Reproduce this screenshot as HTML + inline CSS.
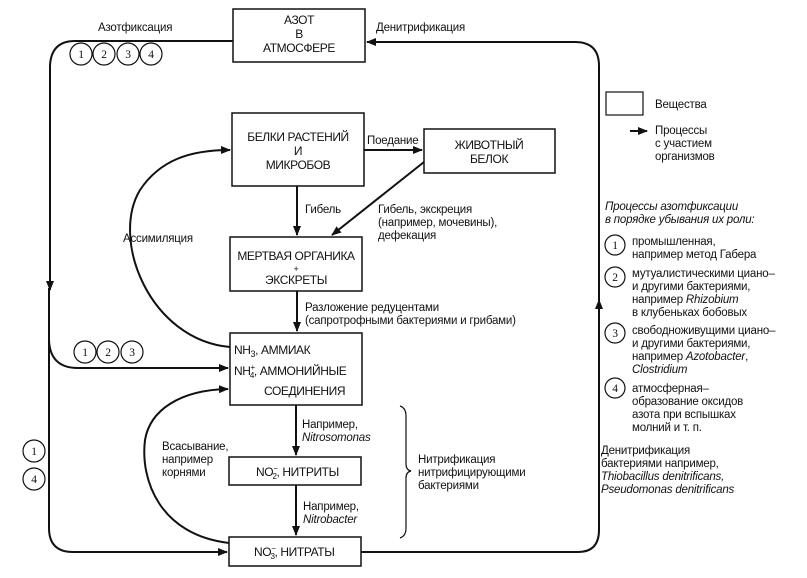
<!DOCTYPE html>
<html><head><meta charset="utf-8"><style>
html,body{margin:0;padding:0;background:#fff}
svg{display:block}
text{font-family:"Liberation Sans",sans-serif;font-size:11.5px;fill:#111;letter-spacing:-0.2px}
.b{font-size:12px;letter-spacing:-0.4px}
.i{font-style:italic}
</style></head><body>
<svg width="807" height="578" viewBox="0 0 807 578" xmlns="http://www.w3.org/2000/svg">
<defs><marker id="a" markerWidth="10" markerHeight="8" refX="9" refY="4" orient="auto" markerUnits="userSpaceOnUse"><path d="M0,0 L10,4 L0,8 z" fill="#111"/></marker></defs>
<g fill="none" stroke="#111" stroke-width="2">
<rect x="233" y="9" width="132" height="53" stroke-width="1.5"/>
<rect x="232" y="113" width="132" height="73" stroke-width="1.5"/>
<rect x="424" y="129" width="131" height="44" stroke-width="1.5"/>
<rect x="230" y="237" width="132" height="54" stroke-width="1.5"/>
<rect x="230" y="333" width="132" height="72" stroke-width="1.5"/>
<rect x="229" y="457" width="132" height="28" stroke-width="1.5"/>
<rect x="229" y="537" width="132" height="29" stroke-width="1.5"/>
<rect x="606" y="92" width="37" height="23" stroke-width="1.2"/>
<path d="M233,41 H75 Q51,41 50,66 V290" marker-end="url(#a)"/>
<path d="M49,288 V528 Q49,552 73,552 H227" marker-end="url(#a)"/>
<path d="M49,340 Q50,368 78,368 H228" marker-end="url(#a)"/>
<path d="M361,552 H578 Q599,552 599,530 V310"/>
<path d="M599,320 V300" marker-end="url(#a)"/>
<path d="M599,300 V66 Q599,42 575,42 H367" marker-end="url(#a)"/>
<path d="M364,150 H422" marker-end="url(#a)"/>
<path d="M297,186 V235" marker-end="url(#a)"/>
<path d="M424,162 L332,235" marker-end="url(#a)"/>
<path d="M297,291 V331" marker-end="url(#a)"/>
<path d="M296,405 V455" marker-end="url(#a)"/>
<path d="M296,485 V535" marker-end="url(#a)"/>
<path d="M230,347 C150,340 110,240 140,190 C160,160 190,150 230,150" marker-end="url(#a)"/>
<path d="M229,543 C160,535 140,480 145,440 C150,410 180,390 228,389" marker-end="url(#a)"/>
<path d="M630,131 H647" marker-end="url(#a)"/>
<path d="M400,406 Q406,408 406,416 V464 Q406,470 411,471 Q406,472 406,478 V528 Q406,536 400,538" stroke-width="1.2"/>
</g>
<g fill="#fff" stroke="#111" stroke-width="1.2">
<circle cx="81" cy="54" r="11"/><circle cx="104" cy="54" r="11"/><circle cx="128" cy="54" r="11"/><circle cx="151" cy="54" r="11"/>
<circle cx="85" cy="352" r="11"/><circle cx="108" cy="352" r="11"/><circle cx="132" cy="352" r="11"/>
<circle cx="34" cy="451" r="11"/><circle cx="34" cy="479" r="11"/>
<circle cx="615" cy="245" r="10"/><circle cx="615" cy="277" r="10"/><circle cx="615" cy="333" r="10"/><circle cx="615" cy="388" r="10"/>
</g>
<g text-anchor="middle">
<text x="81" y="58" style="font-family:'Liberation Serif',serif">1</text><text x="104" y="58" style="font-family:'Liberation Serif',serif">2</text><text x="128" y="58" style="font-family:'Liberation Serif',serif">3</text><text x="151" y="58" style="font-family:'Liberation Serif',serif">4</text>
<text x="85" y="356" style="font-family:'Liberation Serif',serif">1</text><text x="108" y="356" style="font-family:'Liberation Serif',serif">2</text><text x="132" y="356" style="font-family:'Liberation Serif',serif">3</text>
<text x="34" y="455" style="font-family:'Liberation Serif',serif">1</text><text x="34" y="483" style="font-family:'Liberation Serif',serif">4</text>
<text x="615" y="249" style="font-family:'Liberation Serif',serif">1</text><text x="615" y="281" style="font-family:'Liberation Serif',serif">2</text><text x="615" y="337" style="font-family:'Liberation Serif',serif">3</text><text x="615" y="392" style="font-family:'Liberation Serif',serif">4</text>
</g>
<g text-anchor="middle">
<text class="b" x="299" y="24">АЗОТ</text><text class="b" x="299" y="38">В</text><text class="b" x="299" y="52">АТМОСФЕРЕ</text>
<text class="b" x="298" y="141">БЕЛКИ РАСТЕНИЙ</text><text class="b" x="298" y="155">И</text><text class="b" x="298" y="169">МИКРОБОВ</text>
<text class="b" x="489" y="149">ЖИВОТНЫЙ</text><text class="b" x="489" y="163">БЕЛОК</text>
<text class="b" x="296" y="260">МЕРТВАЯ ОРГАНИКА</text><text x="296" y="272" style="font-size:9px">+</text><text class="b" x="296" y="284">ЭКСКРЕТЫ</text>
</g>
<text class="b" x="234" y="354">NH<tspan dy="3" font-size="9">3</tspan><tspan dy="-3">, АММИАК</tspan></text>
<text class="b" x="234" y="375">NH<tspan dy="-5" font-size="8">+</tspan><tspan dx="-5" dy="8" font-size="8">4</tspan><tspan dy="-3">, АММОНИЙНЫЕ</tspan></text>
<text class="b" x="264" y="395">СОЕДИНЕНИЯ</text>
<text class="b" x="256" y="476">NO<tspan dy="-5" font-size="8">−</tspan><tspan dx="-5" dy="8" font-size="8">2</tspan><tspan dy="-3">,  НИТРИТЫ</tspan></text>
<text class="b" x="254" y="556">NO<tspan dy="-5" font-size="8">−</tspan><tspan dx="-5" dy="8" font-size="8">3</tspan><tspan dy="-3">, НИТРАТЫ</tspan></text>
<text x="98" y="31">Азотфиксация</text>
<text x="376" y="31">Денитрификация</text>
<text x="367" y="144">Поедание</text>
<text x="305" y="213">Гибель</text>
<text x="378" y="213">Гибель, экскреция</text><text x="378" y="226">(например, мочевины),</text><text x="378" y="239">дефекация</text>
<text x="123" y="242">Ассимиляция</text>
<text x="305" y="311">Разложение редуцентами</text><text x="305" y="324">(сапротрофными бактериями и грибами)</text>
<text x="302" y="428">Например,</text><text x="302" y="441" class="i">Nitrosomonas</text>
<text x="303" y="510">Например,</text><text x="303" y="523" class="i">Nitrobacter</text>
<text x="162" y="450">Всасывание,</text><text x="162" y="463">например</text><text x="162" y="476">корнями</text>
<text x="418" y="463">Нитрификация</text><text x="418" y="476">нитрифицирующими</text><text x="418" y="489">бактериями</text>
<text x="655" y="108">Вещества</text>
<text x="655" y="134">Процессы</text><text x="655" y="147">с участием</text><text x="655" y="160">организмов</text>
<text x="605" y="210" class="i">Процессы азотфиксации</text><text x="605" y="223" class="i">в порядке убывания их роли:</text>
<text x="632" y="245">промышленная,</text><text x="632" y="258">например метод Габера</text>
<text x="632" y="277">мутуалистическими циано–</text><text x="632" y="290">и другими бактериями,</text><text x="632" y="303">например <tspan class="i">Rhizobium</tspan></text><text x="632" y="316">в клубеньках бобовых</text>
<text x="632" y="334">свободноживущими циано–</text><text x="632" y="347">и другими бактериями,</text><text x="632" y="360">например <tspan class="i">Azotobacter</tspan>,</text><text x="632" y="373" class="i">Clostridium</text>
<text x="632" y="392">атмосферная–</text><text x="632" y="405">образование оксидов</text><text x="632" y="418">азота при вспышках</text><text x="632" y="431">молний и т. п.</text>
<text x="601" y="454">Денитрификация</text><text x="601" y="467">бактериями например,</text><text x="601" y="480" class="i">Thiobacillus denitrificans,</text><text x="601" y="493" class="i">Pseudomonas denitrificans</text>
</svg>
</body></html>
